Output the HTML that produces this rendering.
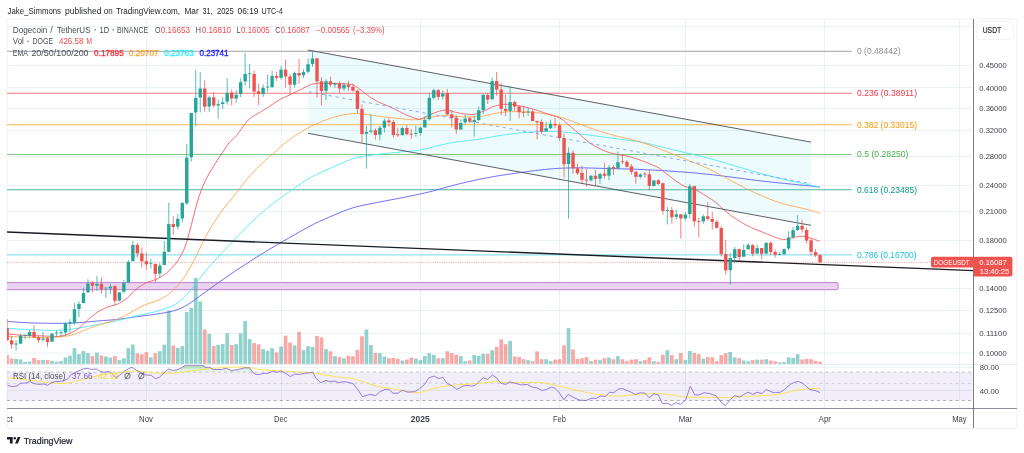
<!DOCTYPE html>
<html><head><meta charset="utf-8"><title>DOGEUSDT chart</title>
<style>html,body{margin:0;padding:0;background:#fff}svg{display:block;will-change:transform}text{font-family:"Liberation Sans",sans-serif}</style></head><body>
<svg width="1024" height="453" viewBox="0 0 1024 453">
<rect width="1024" height="453" fill="#fff"/>
<defs><clipPath id="main"><rect x="7" y="19" width="966.5" height="389.5"/></clipPath><clipPath id="rsi"><rect x="7" y="365" width="966.5" height="43"/></clipPath><clipPath id="tclip"><rect x="7.3" y="409" width="1010" height="19"/></clipPath></defs>
<rect x="7" y="19" width="1010" height="409.5" fill="none" stroke="#eceef2" stroke-width="0.8"/>
<g stroke="#eaf2f6" stroke-width="1" fill="none" shape-rendering="crispEdges">
<path d="M146.5 19V408"/>
<path d="M281.5 19V408"/>
<path d="M420.5 19V408"/>
<path d="M559.5 19V408"/>
<path d="M685.5 19V408"/>
<path d="M824.5 19V408"/>
<path d="M959.5 19V408"/>
</g>
<g stroke="#eaf2f6" stroke-width="1" fill="none">
<path d="M7 26.5H973"/>
<path d="M7 65.5H973"/>
<path d="M7 87.5H973"/>
<path d="M7 108.5H973"/>
<path d="M7 130.5H973"/>
<path d="M7 156.5H973"/>
<path d="M7 185.5H973"/>
<path d="M7 211.5H973"/>
<path d="M7 240.5H973"/>
<path d="M7 288.5H973"/>
<path d="M7 310.5H973"/>
<path d="M7 333.5H973"/>
<path d="M7 353.1H973"/>
<path d="M7 367.4H973"/>
<path d="M7 390.4H973"/>
</g>
<g clip-path="url(#main)">
<rect x="7" y="372" width="965.6" height="28.5" fill="#7e57c2" fill-opacity="0.105"/>
<path d="M7 372H973.5" stroke="#b4b6be" stroke-width="0.8" stroke-dasharray="3 3.2" fill="none"/>
<path d="M7 400.5H973.5" stroke="#989ba4" stroke-width="0.8" stroke-dasharray="3 3.2" fill="none"/>
<path d="M7 383.4H973.5" stroke="#c2c4cb" stroke-width="0.7" stroke-dasharray="3 3.2" fill="none"/>
<path d="M308 50.1L811 142.15L811 225.35L308 133.3Z" fill="#00bcd4" fill-opacity="0.066"/>
<path d="M7 51.41H851.8" stroke="#b2b5be" stroke-width="1.3" fill="none"/>
<path d="M7 93.28H851.8" stroke="#f7787f" stroke-width="1.1" fill="none"/>
<path d="M7 124.68H851.8" stroke="#ffb74d" stroke-width="1.1" fill="none"/>
<path d="M7 154.47H851.8" stroke="#81c784" stroke-width="1.1" fill="none"/>
<path d="M7 189.77H851.8" stroke="#4db6a4" stroke-width="1.2" fill="none"/>
<path d="M7 254.92H851.8" stroke="#72d9e7" stroke-width="1.0" fill="none"/>
<rect x="6" y="282.6" width="832" height="7.1" rx="1" fill="#ead3f0" stroke="#c27fd0" stroke-width="1"/>
<path d="M7 262.4H931" stroke="#ef8a88" stroke-width="0.8" stroke-dasharray="1 1.3" fill="none"/>
<g fill-opacity="0.5">
<rect x="5.25" y="355.1" width="3.7" height="8.8" fill="#ef5350"/>
<rect x="9.74" y="358.6" width="3.7" height="5.3" fill="#ef5350"/>
<rect x="14.23" y="358.9" width="3.7" height="5" fill="#26a69a"/>
<rect x="18.72" y="359.5" width="3.7" height="4.4" fill="#26a69a"/>
<rect x="23.22" y="362" width="3.7" height="1.9" fill="#26a69a"/>
<rect x="27.71" y="361.4" width="3.7" height="2.5" fill="#26a69a"/>
<rect x="32.2" y="358" width="3.7" height="5.9" fill="#ef5350"/>
<rect x="36.69" y="360.1" width="3.7" height="3.8" fill="#ef5350"/>
<rect x="41.18" y="359.9" width="3.7" height="4" fill="#26a69a"/>
<rect x="45.67" y="360.1" width="3.7" height="3.8" fill="#ef5350"/>
<rect x="50.17" y="360.8" width="3.7" height="3.1" fill="#26a69a"/>
<rect x="54.66" y="361.6" width="3.7" height="2.3" fill="#26a69a"/>
<rect x="59.15" y="361.1" width="3.7" height="2.8" fill="#26a69a"/>
<rect x="63.64" y="357.4" width="3.7" height="6.5" fill="#26a69a"/>
<rect x="68.13" y="355.7" width="3.7" height="8.2" fill="#26a69a"/>
<rect x="72.62" y="348.2" width="3.7" height="15.7" fill="#26a69a"/>
<rect x="77.11" y="354.1" width="3.7" height="9.8" fill="#26a69a"/>
<rect x="81.61" y="351.1" width="3.7" height="12.8" fill="#26a69a"/>
<rect x="86.1" y="353.2" width="3.7" height="10.7" fill="#26a69a"/>
<rect x="90.59" y="356.1" width="3.7" height="7.8" fill="#ef5350"/>
<rect x="95.08" y="352.6" width="3.7" height="11.3" fill="#26a69a"/>
<rect x="99.57" y="355.4" width="3.7" height="8.5" fill="#ef5350"/>
<rect x="104.06" y="356.4" width="3.7" height="7.5" fill="#26a69a"/>
<rect x="108.55" y="357.6" width="3.7" height="6.3" fill="#26a69a"/>
<rect x="113.05" y="356.1" width="3.7" height="7.8" fill="#ef5350"/>
<rect x="117.54" y="360.1" width="3.7" height="3.8" fill="#26a69a"/>
<rect x="122.03" y="358.3" width="3.7" height="5.6" fill="#26a69a"/>
<rect x="126.52" y="348.2" width="3.7" height="15.7" fill="#26a69a"/>
<rect x="131.01" y="344.5" width="3.7" height="19.4" fill="#26a69a"/>
<rect x="135.5" y="353.3" width="3.7" height="10.6" fill="#ef5350"/>
<rect x="140" y="354.3" width="3.7" height="9.6" fill="#ef5350"/>
<rect x="144.49" y="352.2" width="3.7" height="11.7" fill="#ef5350"/>
<rect x="148.98" y="357.3" width="3.7" height="6.6" fill="#26a69a"/>
<rect x="153.47" y="353.3" width="3.7" height="10.6" fill="#ef5350"/>
<rect x="157.96" y="351.2" width="3.7" height="12.7" fill="#26a69a"/>
<rect x="162.45" y="344.7" width="3.7" height="19.2" fill="#26a69a"/>
<rect x="166.94" y="310.6" width="3.7" height="53.3" fill="#26a69a"/>
<rect x="171.44" y="345.5" width="3.7" height="18.4" fill="#ef5350"/>
<rect x="175.93" y="347.8" width="3.7" height="16.1" fill="#26a69a"/>
<rect x="180.42" y="346.1" width="3.7" height="17.8" fill="#26a69a"/>
<rect x="184.91" y="312" width="3.7" height="51.9" fill="#26a69a"/>
<rect x="189.4" y="307.9" width="3.7" height="56" fill="#26a69a"/>
<rect x="193.89" y="278" width="3.7" height="85.9" fill="#26a69a"/>
<rect x="198.38" y="301.4" width="3.7" height="62.5" fill="#26a69a"/>
<rect x="202.88" y="329.5" width="3.7" height="34.4" fill="#ef5350"/>
<rect x="207.37" y="333.9" width="3.7" height="30" fill="#26a69a"/>
<rect x="211.86" y="346.1" width="3.7" height="17.8" fill="#ef5350"/>
<rect x="216.35" y="345.1" width="3.7" height="18.8" fill="#26a69a"/>
<rect x="220.84" y="344.1" width="3.7" height="19.8" fill="#26a69a"/>
<rect x="225.33" y="333.3" width="3.7" height="30.6" fill="#26a69a"/>
<rect x="229.83" y="345.1" width="3.7" height="18.8" fill="#ef5350"/>
<rect x="234.32" y="344.1" width="3.7" height="19.8" fill="#26a69a"/>
<rect x="238.81" y="333.4" width="3.7" height="30.5" fill="#26a69a"/>
<rect x="243.3" y="321.1" width="3.7" height="42.8" fill="#26a69a"/>
<rect x="247.79" y="339.1" width="3.7" height="24.8" fill="#26a69a"/>
<rect x="252.28" y="343.1" width="3.7" height="20.8" fill="#ef5350"/>
<rect x="256.77" y="344.3" width="3.7" height="19.6" fill="#ef5350"/>
<rect x="261.27" y="349.1" width="3.7" height="14.8" fill="#26a69a"/>
<rect x="265.76" y="350.8" width="3.7" height="13.1" fill="#26a69a"/>
<rect x="270.25" y="348.2" width="3.7" height="15.7" fill="#26a69a"/>
<rect x="274.74" y="352.3" width="3.7" height="11.6" fill="#ef5350"/>
<rect x="279.23" y="346.6" width="3.7" height="17.3" fill="#26a69a"/>
<rect x="283.72" y="335.7" width="3.7" height="28.2" fill="#ef5350"/>
<rect x="288.21" y="342.5" width="3.7" height="21.4" fill="#ef5350"/>
<rect x="292.71" y="345.4" width="3.7" height="18.5" fill="#26a69a"/>
<rect x="297.2" y="331.8" width="3.7" height="32.1" fill="#ef5350"/>
<rect x="301.69" y="350.1" width="3.7" height="13.8" fill="#26a69a"/>
<rect x="306.18" y="346.2" width="3.7" height="17.7" fill="#26a69a"/>
<rect x="310.67" y="346.9" width="3.7" height="17" fill="#26a69a"/>
<rect x="315.16" y="335.9" width="3.7" height="28" fill="#ef5350"/>
<rect x="319.66" y="337.4" width="3.7" height="26.5" fill="#ef5350"/>
<rect x="324.15" y="349.1" width="3.7" height="14.8" fill="#26a69a"/>
<rect x="328.64" y="351.3" width="3.7" height="12.6" fill="#ef5350"/>
<rect x="333.13" y="356.1" width="3.7" height="7.8" fill="#26a69a"/>
<rect x="337.62" y="357.1" width="3.7" height="6.8" fill="#ef5350"/>
<rect x="342.11" y="358.3" width="3.7" height="5.6" fill="#26a69a"/>
<rect x="346.6" y="355.7" width="3.7" height="8.2" fill="#ef5350"/>
<rect x="351.1" y="356.3" width="3.7" height="7.6" fill="#ef5350"/>
<rect x="355.59" y="349.8" width="3.7" height="14.1" fill="#ef5350"/>
<rect x="360.08" y="336.2" width="3.7" height="27.7" fill="#ef5350"/>
<rect x="364.57" y="329.4" width="3.7" height="34.5" fill="#26a69a"/>
<rect x="369.06" y="345" width="3.7" height="18.9" fill="#26a69a"/>
<rect x="373.55" y="352.9" width="3.7" height="11" fill="#ef5350"/>
<rect x="378.04" y="353.2" width="3.7" height="10.7" fill="#26a69a"/>
<rect x="382.54" y="356.7" width="3.7" height="7.2" fill="#26a69a"/>
<rect x="387.03" y="358.2" width="3.7" height="5.7" fill="#ef5350"/>
<rect x="391.52" y="357.9" width="3.7" height="6" fill="#ef5350"/>
<rect x="396.01" y="358.8" width="3.7" height="5.1" fill="#ef5350"/>
<rect x="400.5" y="360.5" width="3.7" height="3.4" fill="#26a69a"/>
<rect x="404.99" y="359.6" width="3.7" height="4.3" fill="#ef5350"/>
<rect x="409.49" y="357.6" width="3.7" height="6.3" fill="#ef5350"/>
<rect x="413.98" y="358.6" width="3.7" height="5.3" fill="#26a69a"/>
<rect x="418.47" y="360.2" width="3.7" height="3.7" fill="#26a69a"/>
<rect x="422.96" y="356.1" width="3.7" height="7.8" fill="#26a69a"/>
<rect x="427.45" y="353.2" width="3.7" height="10.7" fill="#26a69a"/>
<rect x="431.94" y="354.8" width="3.7" height="9.1" fill="#26a69a"/>
<rect x="436.43" y="358.3" width="3.7" height="5.6" fill="#ef5350"/>
<rect x="440.93" y="358.2" width="3.7" height="5.7" fill="#26a69a"/>
<rect x="445.42" y="351.3" width="3.7" height="12.6" fill="#ef5350"/>
<rect x="449.91" y="353.2" width="3.7" height="10.7" fill="#ef5350"/>
<rect x="454.4" y="354.8" width="3.7" height="9.1" fill="#ef5350"/>
<rect x="458.89" y="356.1" width="3.7" height="7.8" fill="#26a69a"/>
<rect x="463.38" y="361.1" width="3.7" height="2.8" fill="#26a69a"/>
<rect x="467.87" y="360.5" width="3.7" height="3.4" fill="#ef5350"/>
<rect x="472.37" y="355" width="3.7" height="8.9" fill="#26a69a"/>
<rect x="476.86" y="355.8" width="3.7" height="8.1" fill="#26a69a"/>
<rect x="481.35" y="353.8" width="3.7" height="10.1" fill="#26a69a"/>
<rect x="485.84" y="353.8" width="3.7" height="10.1" fill="#ef5350"/>
<rect x="490.33" y="350.1" width="3.7" height="13.8" fill="#26a69a"/>
<rect x="494.82" y="346.9" width="3.7" height="17" fill="#ef5350"/>
<rect x="499.32" y="339.4" width="3.7" height="24.5" fill="#ef5350"/>
<rect x="503.81" y="344.1" width="3.7" height="19.8" fill="#ef5350"/>
<rect x="508.3" y="340.9" width="3.7" height="23" fill="#26a69a"/>
<rect x="512.79" y="356.4" width="3.7" height="7.5" fill="#ef5350"/>
<rect x="517.28" y="356.9" width="3.7" height="7" fill="#ef5350"/>
<rect x="521.77" y="359.2" width="3.7" height="4.7" fill="#ef5350"/>
<rect x="526.26" y="360.2" width="3.7" height="3.7" fill="#26a69a"/>
<rect x="530.76" y="361.1" width="3.7" height="2.8" fill="#ef5350"/>
<rect x="535.25" y="351.4" width="3.7" height="12.5" fill="#ef5350"/>
<rect x="539.74" y="359.2" width="3.7" height="4.7" fill="#ef5350"/>
<rect x="544.23" y="359.2" width="3.7" height="4.7" fill="#26a69a"/>
<rect x="548.72" y="361.1" width="3.7" height="2.8" fill="#26a69a"/>
<rect x="553.21" y="359.6" width="3.7" height="4.3" fill="#ef5350"/>
<rect x="557.7" y="359.2" width="3.7" height="4.7" fill="#ef5350"/>
<rect x="562.2" y="345.4" width="3.7" height="18.5" fill="#ef5350"/>
<rect x="566.69" y="328.1" width="3.7" height="35.8" fill="#26a69a"/>
<rect x="571.18" y="349.4" width="3.7" height="14.5" fill="#ef5350"/>
<rect x="575.67" y="358.9" width="3.7" height="5" fill="#ef5350"/>
<rect x="580.16" y="358.2" width="3.7" height="5.7" fill="#ef5350"/>
<rect x="584.65" y="357.1" width="3.7" height="6.8" fill="#ef5350"/>
<rect x="589.14" y="361.1" width="3.7" height="2.8" fill="#26a69a"/>
<rect x="593.64" y="359.6" width="3.7" height="4.3" fill="#ef5350"/>
<rect x="598.13" y="360.1" width="3.7" height="3.8" fill="#26a69a"/>
<rect x="602.62" y="358.2" width="3.7" height="5.7" fill="#ef5350"/>
<rect x="607.11" y="357.6" width="3.7" height="6.3" fill="#26a69a"/>
<rect x="611.6" y="359.2" width="3.7" height="4.7" fill="#ef5350"/>
<rect x="616.09" y="356.1" width="3.7" height="7.8" fill="#26a69a"/>
<rect x="620.59" y="359.2" width="3.7" height="4.7" fill="#ef5350"/>
<rect x="625.08" y="361.1" width="3.7" height="2.8" fill="#ef5350"/>
<rect x="629.57" y="359.6" width="3.7" height="4.3" fill="#ef5350"/>
<rect x="634.06" y="359.2" width="3.7" height="4.7" fill="#ef5350"/>
<rect x="638.55" y="361.1" width="3.7" height="2.8" fill="#26a69a"/>
<rect x="643.04" y="360.2" width="3.7" height="3.7" fill="#ef5350"/>
<rect x="647.53" y="357.3" width="3.7" height="6.6" fill="#ef5350"/>
<rect x="652.03" y="361.1" width="3.7" height="2.8" fill="#26a69a"/>
<rect x="656.52" y="362" width="3.7" height="1.9" fill="#ef5350"/>
<rect x="661.01" y="354.8" width="3.7" height="9.1" fill="#ef5350"/>
<rect x="665.5" y="350.1" width="3.7" height="13.8" fill="#26a69a"/>
<rect x="669.99" y="355.2" width="3.7" height="8.7" fill="#ef5350"/>
<rect x="674.48" y="359.2" width="3.7" height="4.7" fill="#26a69a"/>
<rect x="678.98" y="352.9" width="3.7" height="11" fill="#ef5350"/>
<rect x="683.47" y="360.1" width="3.7" height="3.8" fill="#26a69a"/>
<rect x="687.96" y="351" width="3.7" height="12.9" fill="#26a69a"/>
<rect x="692.45" y="352.9" width="3.7" height="11" fill="#ef5350"/>
<rect x="696.94" y="354.2" width="3.7" height="9.7" fill="#ef5350"/>
<rect x="701.43" y="358.6" width="3.7" height="5.3" fill="#26a69a"/>
<rect x="705.92" y="357.1" width="3.7" height="6.8" fill="#ef5350"/>
<rect x="710.42" y="357.3" width="3.7" height="6.6" fill="#ef5350"/>
<rect x="714.91" y="361.1" width="3.7" height="2.8" fill="#ef5350"/>
<rect x="719.4" y="355.2" width="3.7" height="8.7" fill="#ef5350"/>
<rect x="723.89" y="353.3" width="3.7" height="10.6" fill="#ef5350"/>
<rect x="728.38" y="352" width="3.7" height="11.9" fill="#26a69a"/>
<rect x="732.87" y="357.3" width="3.7" height="6.6" fill="#26a69a"/>
<rect x="737.36" y="358.2" width="3.7" height="5.7" fill="#ef5350"/>
<rect x="741.86" y="360.5" width="3.7" height="3.4" fill="#26a69a"/>
<rect x="746.35" y="361.3" width="3.7" height="2.6" fill="#26a69a"/>
<rect x="750.84" y="360.1" width="3.7" height="3.8" fill="#ef5350"/>
<rect x="755.33" y="359.6" width="3.7" height="4.3" fill="#26a69a"/>
<rect x="759.82" y="359.6" width="3.7" height="4.3" fill="#ef5350"/>
<rect x="764.31" y="359.2" width="3.7" height="4.7" fill="#26a69a"/>
<rect x="768.81" y="360.5" width="3.7" height="3.4" fill="#ef5350"/>
<rect x="773.3" y="361.3" width="3.7" height="2.6" fill="#ef5350"/>
<rect x="777.79" y="362.3" width="3.7" height="1.6" fill="#26a69a"/>
<rect x="782.28" y="362" width="3.7" height="1.9" fill="#26a69a"/>
<rect x="786.77" y="357.3" width="3.7" height="6.6" fill="#26a69a"/>
<rect x="791.26" y="357.9" width="3.7" height="6" fill="#26a69a"/>
<rect x="795.75" y="354.2" width="3.7" height="9.7" fill="#26a69a"/>
<rect x="800.25" y="359.5" width="3.7" height="4.4" fill="#ef5350"/>
<rect x="804.74" y="358.8" width="3.7" height="5.1" fill="#ef5350"/>
<rect x="809.23" y="359.2" width="3.7" height="4.7" fill="#ef5350"/>
<rect x="813.72" y="360.8" width="3.7" height="3.1" fill="#ef5350"/>
<rect x="818.21" y="361.7" width="3.7" height="2.2" fill="#ef5350"/>
</g>
<path d="M7.4 321.5L10.4 321.69L13.4 321.88L16.4 322.08L19.4 322.27L22.4 322.45L25.4 322.61L28.4 322.75L31.4 322.87L34.4 322.97L37.4 323.06L40.4 323.13L43.4 323.19L46.4 323.25L49.4 323.31L52.4 323.35L55.4 323.37L58.4 323.37L61.4 323.34L64.4 323.3L67.4 323.23L70.4 323.12L73.4 322.99L76.4 322.82L79.4 322.62L82.4 322.4L85.4 322.14L88.4 321.85L91.4 321.56L94.4 321.28L97.4 321.02L100.4 320.77L103.4 320.54L106.4 320.32L109.4 320.11L112.4 319.85L115.4 319.56L118.4 319.24L121.4 318.87L124.4 318.47L127.4 318.03L130.4 317.58L133.4 317.15L136.4 316.74L139.4 316.33L142.4 315.95L145.4 315.58L148.4 315.22L151.4 314.83L154.4 314.41L157.4 313.97L160.4 313.5L163.4 313.01L166.4 312.49L169.4 311.87L172.4 311.15L175.4 310.34L178.4 309.32L181.4 308.05L184.4 306.5L187.4 304.72L190.4 302.82L193.4 300.79L196.4 298.62L199.4 296.4L202.4 294.21L205.4 292.04L208.4 289.89L211.4 287.71L214.4 285.54L217.4 283.38L220.4 281.24L223.4 279.14L226.4 277.07L229.4 275.02L232.4 272.99L235.4 270.97L238.4 268.98L241.4 267L244.4 265.05L247.4 263.1L250.4 261.16L253.4 259.23L256.4 257.32L259.4 255.44L262.4 253.58L265.4 251.75L268.4 249.94L271.4 248.15L274.4 246.38L277.4 244.64L280.4 242.9L283.4 241.17L286.4 239.44L289.4 237.72L292.4 236L295.4 234.29L298.4 232.57L301.4 230.85L304.4 229.14L307.4 227.49L310.4 225.89L313.4 224.36L316.4 222.88L319.4 221.46L322.4 220.1L325.4 218.81L328.4 217.51L331.4 216.23L334.4 214.96L337.4 213.7L340.4 212.44L343.4 211.19L346.4 210.03L349.4 208.96L352.4 207.99L355.4 207.11L358.4 206.32L361.4 205.62L364.4 205.02L367.4 204.42L370.4 203.82L373.4 203.22L376.4 202.63L379.4 202.04L382.4 201.46L385.4 200.88L388.4 200.32L391.4 199.76L394.4 199.2L397.4 198.64L400.4 198.06L403.4 197.47L406.4 196.86L409.4 196.25L412.4 195.63L415.4 195.01L418.4 194.38L421.4 193.76L424.4 193.09L427.4 192.37L430.4 191.62L433.4 190.83L436.4 189.99L439.4 189.14L442.4 188.28L445.4 187.44L448.4 186.63L451.4 185.84L454.4 185.07L457.4 184.31L460.4 183.56L463.4 182.83L466.4 182.12L469.4 181.44L472.4 180.77L475.4 180.13L478.4 179.51L481.4 178.92L484.4 178.32L487.4 177.75L490.4 177.19L493.4 176.65L496.4 176.13L499.4 175.64L502.4 175.17L505.4 174.71L508.4 174.27L511.4 173.82L514.4 173.39L517.4 172.96L520.4 172.54L523.4 172.13L526.4 171.73L529.4 171.34L532.4 170.95L535.4 170.57L538.4 170.2L541.4 169.85L544.4 169.52L547.4 169.21L550.4 168.93L553.4 168.69L556.4 168.49L559.4 168.32L562.4 168.18L565.4 168.06L568.4 167.98L571.4 167.91L574.4 167.86L577.4 167.84L580.4 167.84L583.4 167.86L586.4 167.91L589.4 167.98L592.4 168.08L595.4 168.18L598.4 168.27L601.4 168.36L604.4 168.44L607.4 168.52L610.4 168.59L613.4 168.66L616.4 168.72L619.4 168.78L622.4 168.85L625.4 168.92L628.4 169L631.4 169.09L634.4 169.2L637.4 169.32L640.4 169.45L643.4 169.59L646.4 169.74L649.4 169.89L652.4 170.05L655.4 170.21L658.4 170.37L661.4 170.55L664.4 170.72L667.4 170.91L670.4 171.1L673.4 171.3L676.4 171.51L679.4 171.71L682.4 171.93L685.4 172.16L688.4 172.4L691.4 172.66L694.4 172.93L697.4 173.21L700.4 173.51L703.4 173.82L706.4 174.13L709.4 174.45L712.4 174.78L715.4 175.12L718.4 175.48L721.4 175.85L724.4 176.23L727.4 176.62L730.4 177L733.4 177.39L736.4 177.78L739.4 178.17L742.4 178.55L745.4 178.94L748.4 179.33L751.4 179.72L754.4 180.11L757.4 180.49L760.4 180.85L763.4 181.2L766.4 181.54L769.4 181.87L772.4 182.19L775.4 182.49L778.4 182.8L781.4 183.1L784.4 183.4L787.4 183.7L790.4 184L793.4 184.29L796.4 184.59L799.4 184.88L802.4 185.17L805.4 185.47L808.4 185.79L811.4 186.12L814.4 186.47L817.4 186.83L819.9 187.2" stroke="#5b5bf5" stroke-width="0.9" fill="none" stroke-linejoin="round" />
<path d="M7.4 328.4L10.4 328.58L13.4 328.76L16.4 328.93L19.4 329.11L22.4 329.28L25.4 329.44L28.4 329.59L31.4 329.73L34.4 329.86L37.4 329.97L40.4 330.08L43.4 330.18L46.4 330.28L49.4 330.39L52.4 330.43L55.4 330.4L58.4 330.32L61.4 330.16L64.4 329.94L67.4 329.66L70.4 329.29L73.4 328.89L76.4 328.45L79.4 327.98L82.4 327.47L85.4 326.93L88.4 326.35L91.4 325.76L94.4 325.17L97.4 324.59L100.4 324.02L103.4 323.46L106.4 322.89L109.4 322.33L112.4 321.72L115.4 321.08L118.4 320.41L121.4 319.7L124.4 318.96L127.4 318.18L130.4 317.41L133.4 316.66L136.4 315.95L139.4 315.26L142.4 314.6L145.4 313.97L148.4 313.35L151.4 312.66L154.4 311.91L157.4 311.09L160.4 310.2L163.4 309.25L166.4 308.23L169.4 307.04L172.4 305.7L175.4 304.21L178.4 302.35L181.4 300.01L184.4 297.17L187.4 293.89L190.4 290.35L193.4 286.61L196.4 282.65L199.4 278.7L202.4 274.88L205.4 271.22L208.4 267.72L211.4 264.31L214.4 260.96L217.4 257.68L220.4 254.46L223.4 251.31L226.4 248.18L229.4 245.03L232.4 241.86L235.4 238.66L238.4 235.46L241.4 232.32L244.4 229.24L247.4 226.24L250.4 223.32L253.4 220.48L256.4 217.73L259.4 215.03L262.4 212.34L265.4 209.73L268.4 207.2L271.4 204.76L274.4 202.4L277.4 200.13L280.4 197.95L283.4 195.85L286.4 193.75L289.4 191.65L292.4 189.54L295.4 187.44L298.4 185.34L301.4 183.3L304.4 181.34L307.4 179.47L310.4 177.69L313.4 176.01L316.4 174.47L319.4 173.05L322.4 171.71L325.4 170.39L328.4 169.07L331.4 167.75L334.4 166.4L337.4 165.03L340.4 163.69L343.4 162.37L346.4 161.1L349.4 159.91L352.4 158.89L355.4 158.04L358.4 157.32L361.4 156.69L364.4 156.15L367.4 155.7L370.4 155.32L373.4 154.92L376.4 154.54L379.4 154.17L382.4 153.81L385.4 153.46L388.4 153.14L391.4 152.83L394.4 152.55L397.4 152.28L400.4 152.01L403.4 151.75L406.4 151.49L409.4 151.25L412.4 150.97L415.4 150.62L418.4 150.19L421.4 149.69L424.4 149.1L427.4 148.44L430.4 147.68L433.4 146.88L436.4 146.09L439.4 145.33L442.4 144.62L445.4 143.95L448.4 143.33L451.4 142.79L454.4 142.33L457.4 141.93L460.4 141.55L463.4 141.19L466.4 140.83L469.4 140.48L472.4 140.1L475.4 139.69L478.4 139.24L481.4 138.74L484.4 138.22L487.4 137.69L490.4 137.16L493.4 136.61L496.4 136.08L499.4 135.58L502.4 135.12L505.4 134.7L508.4 134.3L511.4 133.93L514.4 133.59L517.4 133.27L520.4 132.97L523.4 132.68L526.4 132.41L529.4 132.18L532.4 131.97L535.4 131.79L538.4 131.65L541.4 131.55L544.4 131.49L547.4 131.45L550.4 131.46L553.4 131.52L556.4 131.63L559.4 131.78L562.4 131.97L565.4 132.22L568.4 132.51L571.4 132.83L574.4 133.16L577.4 133.52L580.4 133.91L583.4 134.3L586.4 134.7L589.4 135.1L592.4 135.51L595.4 135.93L598.4 136.34L601.4 136.74L604.4 137.13L607.4 137.52L610.4 137.9L613.4 138.29L616.4 138.69L619.4 139.09L622.4 139.49L625.4 139.88L628.4 140.25L631.4 140.62L634.4 141.03L637.4 141.49L640.4 142L643.4 142.57L646.4 143.21L649.4 143.91L652.4 144.66L655.4 145.41L658.4 146.16L661.4 146.91L664.4 147.66L667.4 148.42L670.4 149.16L673.4 149.89L676.4 150.59L679.4 151.28L682.4 151.96L685.4 152.64L688.4 153.31L691.4 154.01L694.4 154.72L697.4 155.45L700.4 156.19L703.4 156.94L706.4 157.68L709.4 158.44L712.4 159.23L715.4 160.04L718.4 160.88L721.4 161.75L724.4 162.64L727.4 163.55L730.4 164.46L733.4 165.36L736.4 166.26L739.4 167.16L742.4 168.06L745.4 168.95L748.4 169.85L751.4 170.75L754.4 171.65L757.4 172.52L760.4 173.37L763.4 174.18L766.4 174.97L769.4 175.75L772.4 176.51L775.4 177.25L778.4 178.01L781.4 178.76L784.4 179.49L787.4 180.2L790.4 180.89L793.4 181.54L796.4 182.17L799.4 182.77L802.4 183.36L805.4 183.97L808.4 184.6L811.4 185.24L814.4 185.88L817.4 186.53L819.9 187.2" stroke="#4de8f7" stroke-width="0.9" fill="none" stroke-linejoin="round" />
<path d="M7.4 336.2L10.4 336.42L13.4 336.65L16.4 336.84L19.4 337L22.4 337.12L25.4 337.22L28.4 337.28L31.4 337.34L34.4 337.41L37.4 337.47L40.4 337.53L43.4 337.58L46.4 337.57L49.4 337.5L52.4 337.38L55.4 337.19L58.4 336.97L61.4 336.74L64.4 336.41L67.4 335.95L70.4 335.35L73.4 334.56L76.4 333.52L79.4 332.33L82.4 331.05L85.4 329.77L88.4 328.54L91.4 327.42L94.4 326.41L97.4 325.51L100.4 324.6L103.4 323.71L106.4 322.81L109.4 321.92L112.4 320.98L115.4 319.92L118.4 318.73L121.4 317.42L124.4 315.92L127.4 314.28L130.4 312.58L133.4 310.87L136.4 309.16L139.4 307.53L142.4 306.04L145.4 304.74L148.4 303.58L151.4 302.55L154.4 301.64L157.4 300.54L160.4 299.21L163.4 297.65L166.4 295.82L169.4 293.52L172.4 290.95L175.4 288.12L178.4 284.82L181.4 281.07L184.4 277L187.4 272.4L190.4 267.19L193.4 261.59L196.4 255.63L199.4 249.45L202.4 243.27L205.4 237.36L208.4 231.81L211.4 226.62L214.4 221.74L217.4 217.25L220.4 213.04L223.4 208.99L226.4 205.11L229.4 201.37L232.4 197.67L235.4 193.92L238.4 190.12L241.4 186.3L244.4 182.53L247.4 178.84L250.4 175.35L253.4 172.07L256.4 168.96L259.4 166L262.4 163.2L265.4 160.44L268.4 157.73L271.4 155.06L274.4 152.4L277.4 149.74L280.4 147.06L283.4 144.49L286.4 142.03L289.4 139.69L292.4 137.46L295.4 135.43L298.4 133.5L301.4 131.66L304.4 129.92L307.4 128.31L310.4 126.77L313.4 125.29L316.4 123.87L319.4 122.54L322.4 121.29L325.4 120.1L328.4 118.99L331.4 117.98L334.4 117.08L337.4 116.27L340.4 115.53L343.4 114.91L346.4 114.41L349.4 113.98L352.4 113.62L355.4 113.5L358.4 113.56L361.4 113.78L364.4 114.15L367.4 114.65L370.4 115.12L373.4 115.56L376.4 115.96L379.4 116.34L382.4 116.68L385.4 117.01L388.4 117.34L391.4 117.66L394.4 117.96L397.4 118.27L400.4 118.59L403.4 118.92L406.4 119.26L409.4 119.61L412.4 119.85L415.4 119.77L418.4 119.53L421.4 119.12L424.4 118.53L427.4 117.91L430.4 117.42L433.4 116.94L436.4 116.45L439.4 116L442.4 115.72L445.4 115.62L448.4 115.68L451.4 115.91L454.4 116.22L457.4 116.48L460.4 116.69L463.4 116.86L466.4 116.93L469.4 116.95L472.4 116.93L475.4 116.86L478.4 116.62L481.4 116.26L484.4 115.76L487.4 115.13L490.4 114.42L493.4 113.76L496.4 113.17L499.4 112.65L502.4 112.25L505.4 111.96L508.4 111.75L511.4 111.63L514.4 111.61L517.4 111.65L520.4 111.71L523.4 111.8L526.4 111.92L529.4 112.1L532.4 112.31L535.4 112.56L538.4 112.87L541.4 113.25L544.4 113.69L547.4 114.18L550.4 114.74L553.4 115.39L556.4 116.11L559.4 116.9L562.4 117.74L565.4 118.7L568.4 119.72L571.4 120.81L574.4 121.96L577.4 123.14L580.4 124.3L583.4 125.43L586.4 126.54L589.4 127.6L592.4 128.66L595.4 129.7L598.4 130.73L601.4 131.72L604.4 132.66L607.4 133.57L610.4 134.43L613.4 135.23L616.4 136.01L619.4 136.76L622.4 137.49L625.4 138.2L628.4 138.91L631.4 139.63L634.4 140.35L637.4 141.15L640.4 142.01L643.4 142.93L646.4 143.92L649.4 144.99L652.4 146.09L655.4 147.23L658.4 148.39L661.4 149.58L664.4 150.78L667.4 151.96L670.4 153.15L673.4 154.34L676.4 155.54L679.4 156.74L682.4 157.96L685.4 159.17L688.4 160.38L691.4 161.58L694.4 162.77L697.4 163.98L700.4 165.23L703.4 166.52L706.4 167.85L709.4 169.24L712.4 170.7L715.4 172.2L718.4 173.75L721.4 175.34L724.4 176.97L727.4 178.59L730.4 180.21L733.4 181.83L736.4 183.43L739.4 185.03L742.4 186.61L745.4 188.18L748.4 189.69L751.4 191.14L754.4 192.55L757.4 193.9L760.4 195.19L763.4 196.46L766.4 197.72L769.4 198.96L772.4 200.12L775.4 201.22L778.4 202.26L781.4 203.23L784.4 204.09L787.4 204.88L790.4 205.61L793.4 206.27L796.4 206.89L799.4 207.54L802.4 208.24L805.4 208.98L808.4 209.79L811.4 210.66L814.4 211.55L817.4 212.45L819.9 213.4" stroke="#ffa64d" stroke-width="0.9" fill="none" stroke-linejoin="round" />
<path d="M7.4 333.8L9.4 334.03L11.4 334.26L13.4 334.49L15.4 334.73L17.4 334.96L19.4 335.13L21.4 335.26L23.4 335.32L25.4 335.38L27.4 335.44L29.4 335.5L31.4 335.56L33.4 335.63L35.4 335.69L37.4 335.75L39.4 335.82L41.4 335.89L43.4 335.98L45.4 336.06L47.4 336.14L49.4 336.22L51.4 336.3L53.4 336.39L55.4 336.47L57.4 336.47L59.4 336.29L61.4 335.91L63.4 335.42L65.4 334.93L67.4 334.36L69.4 333.61L71.4 332.68L73.4 331.67L75.4 330.66L77.4 329.44L79.4 327.9L81.4 326.03L83.4 324.05L85.4 322.07L87.4 320.19L89.4 318.44L91.4 316.81L93.4 315.22L95.4 313.63L97.4 312.2L99.4 310.97L101.4 309.93L103.4 308.92L105.4 307.91L107.4 307.07L109.4 306.41L111.4 305.92L113.4 305.43L115.4 304.92L117.4 304.16L119.4 303.15L121.4 301.93L123.4 300.7L125.4 299.42L127.4 297.86L129.4 296.03L131.4 293.96L133.4 291.9L135.4 289.94L137.4 288.25L139.4 286.85L141.4 285.62L143.4 284.4L145.4 283.27L147.4 282.34L149.4 281.61L151.4 281L153.4 280.39L155.4 279.67L157.4 278.75L159.4 277.65L161.4 276.45L163.4 275.25L165.4 273.87L167.4 272.22L169.4 270.3L171.4 268.26L173.4 266.18L175.4 264.02L177.4 261.38L179.4 258.28L181.4 254.74L183.4 250.81L185.4 245.75L187.4 239.56L189.4 232.31L191.4 224.67L193.4 216.79L195.4 209.18L197.4 201.91L199.4 195.52L201.4 189.82L203.4 185.01L205.4 180.64L207.4 176.68L209.4 173.08L211.4 169.69L213.4 166.48L215.4 163.33L217.4 160.18L219.4 157.07L221.4 154.02L223.4 151.02L225.4 148.03L227.4 145.04L229.4 142.48L231.4 140.41L233.4 138.85L235.4 136.99L237.4 134.62L239.4 131.75L241.4 128.75L243.4 125.93L245.4 123.37L247.4 121.09L249.4 119.07L251.4 117.39L253.4 116.06L255.4 114.91L257.4 113.74L259.4 112.58L261.4 111.41L263.4 110.23L265.4 109.01L267.4 107.72L269.4 106.38L271.4 105.04L273.4 103.7L275.4 102.37L277.4 101.03L279.4 99.77L281.4 98.66L283.4 97.72L285.4 96.88L287.4 96.01L289.4 95.09L291.4 94.13L293.4 93.14L295.4 92.15L297.4 91.15L299.4 90.15L301.4 89.15L303.4 88.15L305.4 87.14L307.4 86.12L309.4 85.17L311.4 84.44L313.4 83.93L315.4 83.57L317.4 83.31L319.4 83.2L321.4 83.23L323.4 83.31L325.4 83.38L327.4 83.45L329.4 83.49L331.4 83.5L333.4 83.5L335.4 83.5L337.4 83.5L339.4 83.5L341.4 83.5L343.4 83.58L345.4 83.74L347.4 83.99L349.4 84.23L351.4 84.52L353.4 85.16L355.4 86.17L357.4 87.5L359.4 88.87L361.4 90.35L363.4 91.93L365.4 93.57L367.4 95.14L369.4 96.57L371.4 97.87L373.4 99.12L375.4 100.37L377.4 101.51L379.4 102.48L381.4 103.28L383.4 104.04L385.4 104.79L387.4 105.62L389.4 106.53L391.4 107.52L393.4 108.53L395.4 109.54L397.4 110.54L399.4 111.54L401.4 112.53L403.4 113.52L405.4 114.51L407.4 115.43L409.4 116.26L411.4 117.02L413.4 117.77L415.4 118.52L417.4 119.08L419.4 119.17L421.4 118.69L423.4 117.82L425.4 116.83L427.4 115.84L429.4 114.91L431.4 114.06L433.4 113.29L435.4 112.54L437.4 111.8L439.4 111.16L441.4 110.67L443.4 110.32L445.4 110.02L447.4 110.06L449.4 110.41L451.4 111.06L453.4 111.68L455.4 112.21L457.4 112.67L459.4 113.07L461.4 113.47L463.4 113.83L465.4 114.09L467.4 114.25L469.4 114.35L471.4 114.45L473.4 114.41L475.4 114.08L477.4 113.48L479.4 112.73L481.4 111.98L483.4 111.19L485.4 110.31L487.4 109.35L489.4 108.35L491.4 107.35L493.4 106.49L495.4 105.84L497.4 105.4L499.4 105.04L501.4 104.67L503.4 104.42L505.4 104.32L507.4 104.37L509.4 104.47L511.4 104.57L513.4 104.75L515.4 105.03L517.4 105.41L519.4 105.81L521.4 106.22L523.4 106.65L525.4 107.11L527.4 107.61L529.4 108.11L531.4 108.62L533.4 109.18L535.4 109.79L537.4 110.47L539.4 111.16L541.4 111.84L543.4 112.52L545.4 113.18L547.4 113.83L549.4 114.47L551.4 115.12L553.4 115.78L555.4 116.44L557.4 117.12L559.4 117.88L561.4 118.97L563.4 120.39L565.4 122.07L567.4 123.76L569.4 125.46L571.4 127.19L573.4 128.93L575.4 130.67L577.4 132.41L579.4 134.16L581.4 135.91L583.4 137.67L585.4 139.43L587.4 141.08L589.4 142.56L591.4 143.87L593.4 145.12L595.4 146.37L597.4 147.53L599.4 148.56L601.4 149.46L603.4 150.31L605.4 151.17L607.4 151.93L609.4 152.56L611.4 153.07L613.4 153.56L615.4 154.04L617.4 154.48L619.4 154.85L621.4 155.16L623.4 155.46L625.4 155.77L627.4 156.16L629.4 156.66L631.4 157.25L633.4 157.86L635.4 158.46L637.4 159.11L639.4 159.81L641.4 160.56L643.4 161.31L645.4 162.05L647.4 162.84L649.4 163.67L651.4 164.54L653.4 165.41L655.4 166.28L657.4 167.15L659.4 168.24L661.4 169.59L663.4 171.22L665.4 172.89L667.4 174.5L669.4 176.04L671.4 177.54L673.4 179.03L675.4 180.52L677.4 181.95L679.4 183.32L681.4 184.65L683.4 185.83L685.4 186.68L687.4 187.21L689.4 187.56L691.4 188.07L693.4 188.8L695.4 189.75L697.4 190.75L699.4 191.84L701.4 193.02L703.4 194.27L705.4 195.52L707.4 196.78L709.4 198.05L711.4 199.36L713.4 200.68L715.4 202.1L717.4 203.74L719.4 205.6L721.4 207.6L723.4 209.48L725.4 211.2L727.4 212.74L729.4 214.24L731.4 215.73L733.4 217.17L735.4 218.52L737.4 219.79L739.4 221.04L741.4 222.3L743.4 223.48L745.4 224.59L747.4 225.62L749.4 226.63L751.4 227.64L753.4 228.57L755.4 229.42L757.4 230.17L759.4 230.91L761.4 231.67L763.4 232.47L765.4 233.3L767.4 234.16L769.4 235.01L771.4 235.87L773.4 236.72L775.4 237.47L777.4 238.12L779.4 238.69L781.4 239.26L783.4 239.56L785.4 239.47L787.4 239L789.4 238.42L791.4 237.9L793.4 237.46L795.4 237.09L797.4 236.73L799.4 236.45L801.4 236.34L803.4 236.38L805.4 236.67L807.4 237.11L809.4 237.73L811.4 238.35L813.4 239.03L815.4 239.76L817.4 240.54L819.4 241.11L819.9 241.5" stroke="#f5595f" stroke-width="0.9" fill="none" stroke-linejoin="round" />
<path d="M308 50.1L811 142.15" stroke="#4a4d58" stroke-width="0.9" fill="none"/>
<path d="M308 133.3L811 225.35" stroke="#4a4d58" stroke-width="0.9" fill="none"/>
<path d="M308.7 91.83L811 183.75" stroke="#7a98f7" stroke-width="0.85" stroke-dasharray="3.2 3.6" fill="none"/>
<path d="M7 232L973.5 270.6" stroke="#1a1c24" stroke-width="1.4" fill="none"/>
<path d="M7.1 319V341" stroke="#ef5350" stroke-width="0.75" fill="none"/>
<rect x="5.4" y="327.9" width="3.4" height="12.2" fill="#ef5350"/>
<path d="M11.59 335.7V348.9" stroke="#ef5350" stroke-width="0.75" fill="none"/>
<rect x="9.89" y="340.3" width="3.4" height="4.2" fill="#ef5350"/>
<path d="M16.08 340.3V350.8" stroke="#26a69a" stroke-width="0.75" fill="none"/>
<rect x="14.38" y="343.6" width="3.4" height="0.9" fill="#26a69a"/>
<path d="M20.57 333.8V344.1" stroke="#26a69a" stroke-width="0.75" fill="none"/>
<rect x="18.87" y="335.7" width="3.4" height="7.9" fill="#26a69a"/>
<path d="M25.07 334.4V339.1" stroke="#26a69a" stroke-width="0.75" fill="none"/>
<rect x="23.37" y="335" width="3.4" height="0.8" fill="#26a69a"/>
<path d="M29.56 330V337.6" stroke="#26a69a" stroke-width="0.75" fill="none"/>
<rect x="27.86" y="331.9" width="3.4" height="4.1" fill="#26a69a"/>
<path d="M34.05 325.3V337.6" stroke="#ef5350" stroke-width="0.75" fill="none"/>
<rect x="32.35" y="331.9" width="3.4" height="5.7" fill="#ef5350"/>
<path d="M38.54 335.7V343" stroke="#ef5350" stroke-width="0.75" fill="none"/>
<rect x="36.84" y="337.3" width="3.4" height="2.8" fill="#ef5350"/>
<path d="M43.03 331.9V341.6" stroke="#26a69a" stroke-width="0.75" fill="none"/>
<rect x="41.33" y="338.6" width="3.4" height="1.2" fill="#26a69a"/>
<path d="M47.52 336.9V347" stroke="#ef5350" stroke-width="0.75" fill="none"/>
<rect x="45.82" y="338.2" width="3.4" height="3.8" fill="#ef5350"/>
<path d="M52.02 332.8V342" stroke="#26a69a" stroke-width="0.75" fill="none"/>
<rect x="50.32" y="333.8" width="3.4" height="7.8" fill="#26a69a"/>
<path d="M56.51 330.4V336.3" stroke="#26a69a" stroke-width="0.75" fill="none"/>
<rect x="54.81" y="332.5" width="3.4" height="0.8" fill="#26a69a"/>
<path d="M61 330.6V336.9" stroke="#26a69a" stroke-width="0.75" fill="none"/>
<rect x="59.3" y="332.3" width="3.4" height="0.8" fill="#26a69a"/>
<path d="M65.49 322.2V336" stroke="#26a69a" stroke-width="0.75" fill="none"/>
<rect x="63.79" y="323.5" width="3.4" height="9" fill="#26a69a"/>
<path d="M69.98 319.1V333.1" stroke="#26a69a" stroke-width="0.75" fill="none"/>
<rect x="68.28" y="322.2" width="3.4" height="1.3" fill="#26a69a"/>
<path d="M74.47 302.9V324.7" stroke="#26a69a" stroke-width="0.75" fill="none"/>
<rect x="72.77" y="309.2" width="3.4" height="13.6" fill="#26a69a"/>
<path d="M78.96 301.4V317.2" stroke="#26a69a" stroke-width="0.75" fill="none"/>
<rect x="77.26" y="303.9" width="3.4" height="5.1" fill="#26a69a"/>
<path d="M83.46 287.6V303.1" stroke="#26a69a" stroke-width="0.75" fill="none"/>
<rect x="81.76" y="293" width="3.4" height="10.1" fill="#26a69a"/>
<path d="M87.95 279.4V292.4" stroke="#26a69a" stroke-width="0.75" fill="none"/>
<rect x="86.25" y="283.6" width="3.4" height="8.8" fill="#26a69a"/>
<path d="M92.44 281V292.4" stroke="#ef5350" stroke-width="0.75" fill="none"/>
<rect x="90.74" y="282.8" width="3.4" height="2.9" fill="#ef5350"/>
<path d="M96.93 276V291.1" stroke="#26a69a" stroke-width="0.75" fill="none"/>
<rect x="95.23" y="283.8" width="3.4" height="1.9" fill="#26a69a"/>
<path d="M101.42 277.3V293.6" stroke="#ef5350" stroke-width="0.75" fill="none"/>
<rect x="99.72" y="283.8" width="3.4" height="5.3" fill="#ef5350"/>
<path d="M105.91 287.6V298" stroke="#26a69a" stroke-width="0.75" fill="none"/>
<rect x="104.21" y="287.6" width="3.4" height="0.8" fill="#26a69a"/>
<path d="M110.4 283.8V293.9" stroke="#26a69a" stroke-width="0.75" fill="none"/>
<rect x="108.7" y="286.6" width="3.4" height="1.9" fill="#26a69a"/>
<path d="M114.9 285.7V305.2" stroke="#ef5350" stroke-width="0.75" fill="none"/>
<rect x="113.2" y="286.1" width="3.4" height="14.7" fill="#ef5350"/>
<path d="M119.39 292V301.4" stroke="#26a69a" stroke-width="0.75" fill="none"/>
<rect x="117.69" y="292.4" width="3.4" height="8.2" fill="#26a69a"/>
<path d="M123.88 280V293.6" stroke="#26a69a" stroke-width="0.75" fill="none"/>
<rect x="122.18" y="282.8" width="3.4" height="8.8" fill="#26a69a"/>
<path d="M128.37 260V282.6" stroke="#26a69a" stroke-width="0.75" fill="none"/>
<rect x="126.67" y="261.9" width="3.4" height="20.7" fill="#26a69a"/>
<path d="M132.86 240.9V261.2" stroke="#26a69a" stroke-width="0.75" fill="none"/>
<rect x="131.16" y="244.9" width="3.4" height="16.3" fill="#26a69a"/>
<path d="M137.35 243V257.5" stroke="#ef5350" stroke-width="0.75" fill="none"/>
<rect x="135.65" y="244.9" width="3.4" height="8.5" fill="#ef5350"/>
<path d="M141.84 247.6V267.5" stroke="#ef5350" stroke-width="0.75" fill="none"/>
<rect x="140.15" y="253.4" width="3.4" height="7.8" fill="#ef5350"/>
<path d="M146.34 252.4V270.1" stroke="#ef5350" stroke-width="0.75" fill="none"/>
<rect x="144.64" y="261.2" width="3.4" height="3.2" fill="#ef5350"/>
<path d="M150.83 259V268.8" stroke="#26a69a" stroke-width="0.75" fill="none"/>
<rect x="149.13" y="262.8" width="3.4" height="0.8" fill="#26a69a"/>
<path d="M155.32 263.8V282" stroke="#ef5350" stroke-width="0.75" fill="none"/>
<rect x="153.62" y="263.8" width="3.4" height="10" fill="#ef5350"/>
<path d="M159.81 263.1V277.6" stroke="#26a69a" stroke-width="0.75" fill="none"/>
<rect x="158.11" y="265.6" width="3.4" height="8" fill="#26a69a"/>
<path d="M164.3 241.1V265" stroke="#26a69a" stroke-width="0.75" fill="none"/>
<rect x="162.6" y="251.8" width="3.4" height="13.2" fill="#26a69a"/>
<path d="M168.79 202.5V251.8" stroke="#26a69a" stroke-width="0.75" fill="none"/>
<rect x="167.09" y="224.1" width="3.4" height="27.7" fill="#26a69a"/>
<path d="M173.29 216.3V234.8" stroke="#ef5350" stroke-width="0.75" fill="none"/>
<rect x="171.59" y="224.1" width="3.4" height="2.9" fill="#ef5350"/>
<path d="M177.78 214V229.5" stroke="#26a69a" stroke-width="0.75" fill="none"/>
<rect x="176.08" y="218.8" width="3.4" height="7.8" fill="#26a69a"/>
<path d="M182.27 202.1V222.6" stroke="#26a69a" stroke-width="0.75" fill="none"/>
<rect x="180.57" y="203" width="3.4" height="15.5" fill="#26a69a"/>
<path d="M186.76 144.2V204.6" stroke="#26a69a" stroke-width="0.75" fill="none"/>
<rect x="185.06" y="157.7" width="3.4" height="45.7" fill="#26a69a"/>
<path d="M191.25 113V161.5" stroke="#26a69a" stroke-width="0.75" fill="none"/>
<rect x="189.55" y="113" width="3.4" height="44.3" fill="#26a69a"/>
<path d="M195.74 70.2V126.2" stroke="#26a69a" stroke-width="0.75" fill="none"/>
<rect x="194.04" y="97.9" width="3.4" height="14.5" fill="#26a69a"/>
<path d="M200.23 72.1V112.4" stroke="#26a69a" stroke-width="0.75" fill="none"/>
<rect x="198.53" y="88.5" width="3.4" height="9" fill="#26a69a"/>
<path d="M204.73 80.3V111.8" stroke="#ef5350" stroke-width="0.75" fill="none"/>
<rect x="203.03" y="88.5" width="3.4" height="18.2" fill="#ef5350"/>
<path d="M209.22 95.4V111.8" stroke="#26a69a" stroke-width="0.75" fill="none"/>
<rect x="207.52" y="97.3" width="3.4" height="9.2" fill="#26a69a"/>
<path d="M213.71 92.2V107.7" stroke="#ef5350" stroke-width="0.75" fill="none"/>
<rect x="212.01" y="97.3" width="3.4" height="8.2" fill="#ef5350"/>
<path d="M218.2 99.8V118.7" stroke="#26a69a" stroke-width="0.75" fill="none"/>
<rect x="216.5" y="104.2" width="3.4" height="1.3" fill="#26a69a"/>
<path d="M222.69 97.3V109.2" stroke="#26a69a" stroke-width="0.75" fill="none"/>
<rect x="220.99" y="102.3" width="3.4" height="1.7" fill="#26a69a"/>
<path d="M227.18 78.4V104.6" stroke="#26a69a" stroke-width="0.75" fill="none"/>
<rect x="225.48" y="92.9" width="3.4" height="8.8" fill="#26a69a"/>
<path d="M231.68 89.5V105.5" stroke="#ef5350" stroke-width="0.75" fill="none"/>
<rect x="229.98" y="92.6" width="3.4" height="5.9" fill="#ef5350"/>
<path d="M236.17 90.4V102.9" stroke="#26a69a" stroke-width="0.75" fill="none"/>
<rect x="234.47" y="94.8" width="3.4" height="3.7" fill="#26a69a"/>
<path d="M240.66 78.4V97" stroke="#26a69a" stroke-width="0.75" fill="none"/>
<rect x="238.96" y="82.2" width="3.4" height="11.7" fill="#26a69a"/>
<path d="M245.15 53.2V85.5" stroke="#26a69a" stroke-width="0.75" fill="none"/>
<rect x="243.45" y="74" width="3.4" height="7.5" fill="#26a69a"/>
<path d="M249.64 63.9V88.5" stroke="#26a69a" stroke-width="0.75" fill="none"/>
<rect x="247.94" y="73.4" width="3.4" height="0.8" fill="#26a69a"/>
<path d="M254.13 70.6V96.9" stroke="#ef5350" stroke-width="0.75" fill="none"/>
<rect x="252.43" y="74" width="3.4" height="17.6" fill="#ef5350"/>
<path d="M258.62 83.4V105.1" stroke="#ef5350" stroke-width="0.75" fill="none"/>
<rect x="256.92" y="91.4" width="3.4" height="2.7" fill="#ef5350"/>
<path d="M263.12 84.3V96.9" stroke="#26a69a" stroke-width="0.75" fill="none"/>
<rect x="261.42" y="87.8" width="3.4" height="6.3" fill="#26a69a"/>
<path d="M267.61 74.6V91.6" stroke="#26a69a" stroke-width="0.75" fill="none"/>
<rect x="265.91" y="86.6" width="3.4" height="0.8" fill="#26a69a"/>
<path d="M272.1 70.8V87.6" stroke="#26a69a" stroke-width="0.75" fill="none"/>
<rect x="270.4" y="75.9" width="3.4" height="11.3" fill="#26a69a"/>
<path d="M276.59 71.5V80.9" stroke="#ef5350" stroke-width="0.75" fill="none"/>
<rect x="274.89" y="75.9" width="3.4" height="1.9" fill="#ef5350"/>
<path d="M281.08 65.8V79.6" stroke="#26a69a" stroke-width="0.75" fill="none"/>
<rect x="279.38" y="69.6" width="3.4" height="8.2" fill="#26a69a"/>
<path d="M285.57 59.5V87.6" stroke="#ef5350" stroke-width="0.75" fill="none"/>
<rect x="283.87" y="69.6" width="3.4" height="6.9" fill="#ef5350"/>
<path d="M290.06 74.2V92.9" stroke="#ef5350" stroke-width="0.75" fill="none"/>
<rect x="288.36" y="76.5" width="3.4" height="8.2" fill="#ef5350"/>
<path d="M294.56 71.5V87.6" stroke="#26a69a" stroke-width="0.75" fill="none"/>
<rect x="292.86" y="73" width="3.4" height="11.7" fill="#26a69a"/>
<path d="M299.05 58.9V84" stroke="#ef5350" stroke-width="0.75" fill="none"/>
<rect x="297.35" y="73" width="3.4" height="2.5" fill="#ef5350"/>
<path d="M303.54 69.2V78.1" stroke="#26a69a" stroke-width="0.75" fill="none"/>
<rect x="301.84" y="72.1" width="3.4" height="3.1" fill="#26a69a"/>
<path d="M308.03 58.6V73.4" stroke="#26a69a" stroke-width="0.75" fill="none"/>
<rect x="306.33" y="64.2" width="3.4" height="7.5" fill="#26a69a"/>
<path d="M312.52 51.1V66.7" stroke="#26a69a" stroke-width="0.75" fill="none"/>
<rect x="310.82" y="58.6" width="3.4" height="5.3" fill="#26a69a"/>
<path d="M317.01 58.3V97.6" stroke="#ef5350" stroke-width="0.75" fill="none"/>
<rect x="315.31" y="58.3" width="3.4" height="23" fill="#ef5350"/>
<path d="M321.51 77.1V105.1" stroke="#ef5350" stroke-width="0.75" fill="none"/>
<rect x="319.81" y="81.3" width="3.4" height="9.7" fill="#ef5350"/>
<path d="M326 79.3V100.1" stroke="#26a69a" stroke-width="0.75" fill="none"/>
<rect x="324.3" y="81.3" width="3.4" height="9.4" fill="#26a69a"/>
<path d="M330.49 76.5V86.9" stroke="#ef5350" stroke-width="0.75" fill="none"/>
<rect x="328.79" y="81.3" width="3.4" height="3.4" fill="#ef5350"/>
<path d="M334.98 82.2V87.8" stroke="#26a69a" stroke-width="0.75" fill="none"/>
<rect x="333.28" y="83.4" width="3.4" height="1.3" fill="#26a69a"/>
<path d="M339.47 81.3V93.5" stroke="#ef5350" stroke-width="0.75" fill="none"/>
<rect x="337.77" y="83.4" width="3.4" height="5.1" fill="#ef5350"/>
<path d="M343.96 82.8V91" stroke="#26a69a" stroke-width="0.75" fill="none"/>
<rect x="342.26" y="84.7" width="3.4" height="3.8" fill="#26a69a"/>
<path d="M348.45 80.9V91" stroke="#ef5350" stroke-width="0.75" fill="none"/>
<rect x="346.75" y="84.7" width="3.4" height="2.1" fill="#ef5350"/>
<path d="M352.95 83.4V91.6" stroke="#ef5350" stroke-width="0.75" fill="none"/>
<rect x="351.25" y="86.8" width="3.4" height="3.9" fill="#ef5350"/>
<path d="M357.44 89.7V113" stroke="#ef5350" stroke-width="0.75" fill="none"/>
<rect x="355.74" y="90.7" width="3.4" height="18.2" fill="#ef5350"/>
<path d="M361.93 104.3V142.8" stroke="#ef5350" stroke-width="0.75" fill="none"/>
<rect x="360.23" y="108.9" width="3.4" height="25.1" fill="#ef5350"/>
<path d="M366.42 125.8V168.7" stroke="#26a69a" stroke-width="0.75" fill="none"/>
<rect x="364.72" y="132" width="3.4" height="1.7" fill="#26a69a"/>
<path d="M370.91 113.8V133.7" stroke="#26a69a" stroke-width="0.75" fill="none"/>
<rect x="369.21" y="130.6" width="3.4" height="1.1" fill="#26a69a"/>
<path d="M375.4 128.3V139.6" stroke="#ef5350" stroke-width="0.75" fill="none"/>
<rect x="373.7" y="130.2" width="3.4" height="4.8" fill="#ef5350"/>
<path d="M379.89 125.8V140.6" stroke="#26a69a" stroke-width="0.75" fill="none"/>
<rect x="378.19" y="127.7" width="3.4" height="6.9" fill="#26a69a"/>
<path d="M384.39 118.6V132.7" stroke="#26a69a" stroke-width="0.75" fill="none"/>
<rect x="382.69" y="120.7" width="3.4" height="7" fill="#26a69a"/>
<path d="M388.88 118.2V126.6" stroke="#ef5350" stroke-width="0.75" fill="none"/>
<rect x="387.18" y="120.4" width="3.4" height="2" fill="#ef5350"/>
<path d="M393.37 120.1V137.5" stroke="#ef5350" stroke-width="0.75" fill="none"/>
<rect x="391.67" y="122" width="3.4" height="13" fill="#ef5350"/>
<path d="M397.86 127.7V137.1" stroke="#ef5350" stroke-width="0.75" fill="none"/>
<rect x="396.16" y="134.2" width="3.4" height="1" fill="#ef5350"/>
<path d="M402.35 126.4V135.6" stroke="#26a69a" stroke-width="0.75" fill="none"/>
<rect x="400.65" y="128" width="3.4" height="7.2" fill="#26a69a"/>
<path d="M406.84 125.1V135.2" stroke="#ef5350" stroke-width="0.75" fill="none"/>
<rect x="405.14" y="128" width="3.4" height="6.2" fill="#ef5350"/>
<path d="M411.34 128.9V138.7" stroke="#ef5350" stroke-width="0.75" fill="none"/>
<rect x="409.64" y="133.7" width="3.4" height="0.9" fill="#ef5350"/>
<path d="M415.83 125.4V136.7" stroke="#26a69a" stroke-width="0.75" fill="none"/>
<rect x="414.13" y="133.1" width="3.4" height="0.9" fill="#26a69a"/>
<path d="M420.32 126.4V135.6" stroke="#26a69a" stroke-width="0.75" fill="none"/>
<rect x="418.62" y="127.7" width="3.4" height="5.2" fill="#26a69a"/>
<path d="M424.81 116.3V127.7" stroke="#26a69a" stroke-width="0.75" fill="none"/>
<rect x="423.11" y="119.9" width="3.4" height="7.5" fill="#26a69a"/>
<path d="M429.3 93V120.7" stroke="#26a69a" stroke-width="0.75" fill="none"/>
<rect x="427.6" y="97.8" width="3.4" height="21.4" fill="#26a69a"/>
<path d="M433.79 88.3V99.3" stroke="#26a69a" stroke-width="0.75" fill="none"/>
<rect x="432.09" y="90.2" width="3.4" height="7.6" fill="#26a69a"/>
<path d="M438.28 89V100" stroke="#ef5350" stroke-width="0.75" fill="none"/>
<rect x="436.58" y="90.2" width="3.4" height="6.7" fill="#ef5350"/>
<path d="M442.78 90.2V99.6" stroke="#26a69a" stroke-width="0.75" fill="none"/>
<rect x="441.08" y="93.7" width="3.4" height="2.8" fill="#26a69a"/>
<path d="M447.27 88.7V114.8" stroke="#ef5350" stroke-width="0.75" fill="none"/>
<rect x="445.57" y="93" width="3.4" height="21.4" fill="#ef5350"/>
<path d="M451.76 110V127.7" stroke="#ef5350" stroke-width="0.75" fill="none"/>
<rect x="450.06" y="114.4" width="3.4" height="3.6" fill="#ef5350"/>
<path d="M456.25 115.3V134" stroke="#ef5350" stroke-width="0.75" fill="none"/>
<rect x="454.55" y="117.6" width="3.4" height="11.9" fill="#ef5350"/>
<path d="M460.74 119.5V129.5" stroke="#26a69a" stroke-width="0.75" fill="none"/>
<rect x="459.04" y="123" width="3.4" height="6.5" fill="#26a69a"/>
<path d="M465.23 114.4V124.5" stroke="#26a69a" stroke-width="0.75" fill="none"/>
<rect x="463.53" y="118.6" width="3.4" height="3.8" fill="#26a69a"/>
<path d="M469.72 117V123.3" stroke="#ef5350" stroke-width="0.75" fill="none"/>
<rect x="468.02" y="118.2" width="3.4" height="3.2" fill="#ef5350"/>
<path d="M474.22 115.7V136.5" stroke="#26a69a" stroke-width="0.75" fill="none"/>
<rect x="472.52" y="120.1" width="3.4" height="1.9" fill="#26a69a"/>
<path d="M478.71 106.4V121" stroke="#26a69a" stroke-width="0.75" fill="none"/>
<rect x="477.01" y="110.3" width="3.4" height="9.7" fill="#26a69a"/>
<path d="M483.2 93.9V114" stroke="#26a69a" stroke-width="0.75" fill="none"/>
<rect x="481.5" y="94.9" width="3.4" height="15.1" fill="#26a69a"/>
<path d="M487.69 92.9V104" stroke="#ef5350" stroke-width="0.75" fill="none"/>
<rect x="485.99" y="94.9" width="3.4" height="4.7" fill="#ef5350"/>
<path d="M492.18 77.6V99.6" stroke="#26a69a" stroke-width="0.75" fill="none"/>
<rect x="490.48" y="81.1" width="3.4" height="18.1" fill="#26a69a"/>
<path d="M496.67 71.9V95.8" stroke="#ef5350" stroke-width="0.75" fill="none"/>
<rect x="494.97" y="81.1" width="3.4" height="8.4" fill="#ef5350"/>
<path d="M501.17 83.2V115.1" stroke="#ef5350" stroke-width="0.75" fill="none"/>
<rect x="499.47" y="89.5" width="3.4" height="19.3" fill="#ef5350"/>
<path d="M505.66 94.5V116.3" stroke="#ef5350" stroke-width="0.75" fill="none"/>
<rect x="503.96" y="109" width="3.4" height="1.9" fill="#ef5350"/>
<path d="M510.15 86.1V121" stroke="#26a69a" stroke-width="0.75" fill="none"/>
<rect x="508.45" y="102.1" width="3.4" height="8.8" fill="#26a69a"/>
<path d="M514.64 100.8V110.9" stroke="#ef5350" stroke-width="0.75" fill="none"/>
<rect x="512.94" y="102.1" width="3.4" height="4.4" fill="#ef5350"/>
<path d="M519.13 105.6V118.2" stroke="#ef5350" stroke-width="0.75" fill="none"/>
<rect x="517.43" y="106.5" width="3.4" height="5.7" fill="#ef5350"/>
<path d="M523.62 105.6V117.2" stroke="#ef5350" stroke-width="0.75" fill="none"/>
<rect x="521.92" y="112.2" width="3.4" height="0.8" fill="#ef5350"/>
<path d="M528.11 107.8V115.9" stroke="#26a69a" stroke-width="0.75" fill="none"/>
<rect x="526.41" y="111.5" width="3.4" height="1" fill="#26a69a"/>
<path d="M532.61 109.6V121.4" stroke="#ef5350" stroke-width="0.75" fill="none"/>
<rect x="530.91" y="111.5" width="3.4" height="9.5" fill="#ef5350"/>
<path d="M537.1 120.7V139.5" stroke="#ef5350" stroke-width="0.75" fill="none"/>
<rect x="535.4" y="121" width="3.4" height="1.3" fill="#ef5350"/>
<path d="M541.59 119.4V133.9" stroke="#ef5350" stroke-width="0.75" fill="none"/>
<rect x="539.89" y="121.9" width="3.4" height="9.8" fill="#ef5350"/>
<path d="M546.08 121.9V131.4" stroke="#26a69a" stroke-width="0.75" fill="none"/>
<rect x="544.38" y="128.2" width="3.4" height="3.2" fill="#26a69a"/>
<path d="M550.57 119.8V128.8" stroke="#26a69a" stroke-width="0.75" fill="none"/>
<rect x="548.87" y="123.8" width="3.4" height="4.4" fill="#26a69a"/>
<path d="M555.06 117.8V128.2" stroke="#ef5350" stroke-width="0.75" fill="none"/>
<rect x="553.36" y="123.8" width="3.4" height="1.5" fill="#ef5350"/>
<path d="M559.55 123.2V140.8" stroke="#ef5350" stroke-width="0.75" fill="none"/>
<rect x="557.85" y="125.3" width="3.4" height="12.7" fill="#ef5350"/>
<path d="M564.05 133.6V177.7" stroke="#ef5350" stroke-width="0.75" fill="none"/>
<rect x="562.35" y="138" width="3.4" height="26.3" fill="#ef5350"/>
<path d="M568.54 147.5V218.7" stroke="#26a69a" stroke-width="0.75" fill="none"/>
<rect x="566.84" y="152.8" width="3.4" height="11.2" fill="#26a69a"/>
<path d="M573.03 150.2V173.7" stroke="#ef5350" stroke-width="0.75" fill="none"/>
<rect x="571.33" y="152.8" width="3.4" height="15.5" fill="#ef5350"/>
<path d="M577.52 163.8V174.9" stroke="#ef5350" stroke-width="0.75" fill="none"/>
<rect x="575.82" y="168.3" width="3.4" height="5" fill="#ef5350"/>
<path d="M582.01 165.7V183" stroke="#ef5350" stroke-width="0.75" fill="none"/>
<rect x="580.31" y="172.9" width="3.4" height="6.9" fill="#ef5350"/>
<path d="M586.5 168.9V186.5" stroke="#ef5350" stroke-width="0.75" fill="none"/>
<rect x="584.8" y="179.6" width="3.4" height="0.9" fill="#ef5350"/>
<path d="M591 174.9V181.5" stroke="#26a69a" stroke-width="0.75" fill="none"/>
<rect x="589.29" y="175.8" width="3.4" height="4.4" fill="#26a69a"/>
<path d="M595.49 170.1V185.9" stroke="#ef5350" stroke-width="0.75" fill="none"/>
<rect x="593.79" y="175.8" width="3.4" height="3.1" fill="#ef5350"/>
<path d="M599.98 173.3V184" stroke="#26a69a" stroke-width="0.75" fill="none"/>
<rect x="598.28" y="173.9" width="3.4" height="4.8" fill="#26a69a"/>
<path d="M604.47 162.6V178.7" stroke="#ef5350" stroke-width="0.75" fill="none"/>
<rect x="602.77" y="173.7" width="3.4" height="2.1" fill="#ef5350"/>
<path d="M608.96 165.1V180.2" stroke="#26a69a" stroke-width="0.75" fill="none"/>
<rect x="607.26" y="167.4" width="3.4" height="8.2" fill="#26a69a"/>
<path d="M613.45 165.1V174.9" stroke="#ef5350" stroke-width="0.75" fill="none"/>
<rect x="611.75" y="167" width="3.4" height="1.9" fill="#ef5350"/>
<path d="M617.94 151.5V168.6" stroke="#26a69a" stroke-width="0.75" fill="none"/>
<rect x="616.24" y="162.2" width="3.4" height="6.4" fill="#26a69a"/>
<path d="M622.44 154V164.1" stroke="#ef5350" stroke-width="0.75" fill="none"/>
<rect x="620.74" y="161.3" width="3.4" height="0.8" fill="#ef5350"/>
<path d="M626.93 160.1V167.6" stroke="#ef5350" stroke-width="0.75" fill="none"/>
<rect x="625.23" y="161.7" width="3.4" height="5" fill="#ef5350"/>
<path d="M631.42 164.1V174.5" stroke="#ef5350" stroke-width="0.75" fill="none"/>
<rect x="629.72" y="166.4" width="3.4" height="5.4" fill="#ef5350"/>
<path d="M635.91 170.8V183.7" stroke="#ef5350" stroke-width="0.75" fill="none"/>
<rect x="634.21" y="171.8" width="3.4" height="5" fill="#ef5350"/>
<path d="M640.4 173.3V178.7" stroke="#26a69a" stroke-width="0.75" fill="none"/>
<rect x="638.7" y="174.5" width="3.4" height="2.3" fill="#26a69a"/>
<path d="M644.89 172V177.7" stroke="#ef5350" stroke-width="0.75" fill="none"/>
<rect x="643.19" y="173.7" width="3.4" height="0.8" fill="#ef5350"/>
<path d="M649.38 169.5V190.3" stroke="#ef5350" stroke-width="0.75" fill="none"/>
<rect x="647.68" y="174.3" width="3.4" height="11.6" fill="#ef5350"/>
<path d="M653.88 180V186.5" stroke="#26a69a" stroke-width="0.75" fill="none"/>
<rect x="652.18" y="180.5" width="3.4" height="5.4" fill="#26a69a"/>
<path d="M658.37 179.2V185" stroke="#ef5350" stroke-width="0.75" fill="none"/>
<rect x="656.67" y="180.2" width="3.4" height="3.8" fill="#ef5350"/>
<path d="M662.86 182.6V214.6" stroke="#ef5350" stroke-width="0.75" fill="none"/>
<rect x="661.16" y="183.3" width="3.4" height="27.6" fill="#ef5350"/>
<path d="M667.35 207.1V224.5" stroke="#26a69a" stroke-width="0.75" fill="none"/>
<rect x="665.65" y="210" width="3.4" height="0.9" fill="#26a69a"/>
<path d="M671.84 207.1V223.5" stroke="#ef5350" stroke-width="0.75" fill="none"/>
<rect x="670.14" y="210" width="3.4" height="7.2" fill="#ef5350"/>
<path d="M676.33 210V219.7" stroke="#26a69a" stroke-width="0.75" fill="none"/>
<rect x="674.63" y="214.3" width="3.4" height="2.5" fill="#26a69a"/>
<path d="M680.83 214V238.6" stroke="#ef5350" stroke-width="0.75" fill="none"/>
<rect x="679.12" y="214.3" width="3.4" height="4.1" fill="#ef5350"/>
<path d="M685.32 212.1V220.3" stroke="#26a69a" stroke-width="0.75" fill="none"/>
<rect x="683.62" y="214.6" width="3.4" height="3.8" fill="#26a69a"/>
<path d="M689.81 183.8V218.4" stroke="#26a69a" stroke-width="0.75" fill="none"/>
<rect x="688.11" y="186.3" width="3.4" height="27.7" fill="#26a69a"/>
<path d="M694.3 185.7V226.9" stroke="#ef5350" stroke-width="0.75" fill="none"/>
<rect x="692.6" y="186.1" width="3.4" height="35.2" fill="#ef5350"/>
<path d="M698.79 217.8V237.6" stroke="#ef5350" stroke-width="0.75" fill="none"/>
<rect x="697.09" y="220.9" width="3.4" height="0.9" fill="#ef5350"/>
<path d="M703.28 214.3V223.8" stroke="#26a69a" stroke-width="0.75" fill="none"/>
<rect x="701.58" y="216.3" width="3.4" height="5" fill="#26a69a"/>
<path d="M707.77 202.1V220.6" stroke="#ef5350" stroke-width="0.75" fill="none"/>
<rect x="706.07" y="216.3" width="3.4" height="2.7" fill="#ef5350"/>
<path d="M712.27 212.1V229.8" stroke="#ef5350" stroke-width="0.75" fill="none"/>
<rect x="710.57" y="219" width="3.4" height="2.8" fill="#ef5350"/>
<path d="M716.76 219.7V228.5" stroke="#ef5350" stroke-width="0.75" fill="none"/>
<rect x="715.06" y="221.8" width="3.4" height="6" fill="#ef5350"/>
<path d="M721.25 226.2V256.5" stroke="#ef5350" stroke-width="0.75" fill="none"/>
<rect x="719.55" y="228.1" width="3.4" height="25.8" fill="#ef5350"/>
<path d="M725.74 239.9V274.6" stroke="#ef5350" stroke-width="0.75" fill="none"/>
<rect x="724.04" y="253.9" width="3.4" height="16.4" fill="#ef5350"/>
<path d="M730.23 253.3V284.7" stroke="#26a69a" stroke-width="0.75" fill="none"/>
<rect x="728.53" y="258" width="3.4" height="12.1" fill="#26a69a"/>
<path d="M734.72 247V263.4" stroke="#26a69a" stroke-width="0.75" fill="none"/>
<rect x="733.02" y="249.2" width="3.4" height="8.8" fill="#26a69a"/>
<path d="M739.21 248.3V260.9" stroke="#ef5350" stroke-width="0.75" fill="none"/>
<rect x="737.51" y="249.2" width="3.4" height="7.9" fill="#ef5350"/>
<path d="M743.71 244.5V257.1" stroke="#26a69a" stroke-width="0.75" fill="none"/>
<rect x="742.01" y="249.9" width="3.4" height="6.8" fill="#26a69a"/>
<path d="M748.2 243V249.5" stroke="#26a69a" stroke-width="0.75" fill="none"/>
<rect x="746.5" y="245.1" width="3.4" height="4.2" fill="#26a69a"/>
<path d="M752.69 243.9V256.4" stroke="#ef5350" stroke-width="0.75" fill="none"/>
<rect x="750.99" y="245.1" width="3.4" height="8.7" fill="#ef5350"/>
<path d="M757.18 244.5V253.9" stroke="#26a69a" stroke-width="0.75" fill="none"/>
<rect x="755.48" y="248.1" width="3.4" height="5.5" fill="#26a69a"/>
<path d="M761.67 248V259.5" stroke="#ef5350" stroke-width="0.75" fill="none"/>
<rect x="759.97" y="248.1" width="3.4" height="5.7" fill="#ef5350"/>
<path d="M766.16 242V254.5" stroke="#26a69a" stroke-width="0.75" fill="none"/>
<rect x="764.46" y="242.9" width="3.4" height="10.7" fill="#26a69a"/>
<path d="M770.66 241.4V255" stroke="#ef5350" stroke-width="0.75" fill="none"/>
<rect x="768.96" y="242.9" width="3.4" height="9.1" fill="#ef5350"/>
<path d="M775.15 249.6V257.5" stroke="#ef5350" stroke-width="0.75" fill="none"/>
<rect x="773.45" y="252" width="3.4" height="2.8" fill="#ef5350"/>
<path d="M779.64 251.8V255.1" stroke="#26a69a" stroke-width="0.75" fill="none"/>
<rect x="777.94" y="254.1" width="3.4" height="0.8" fill="#26a69a"/>
<path d="M784.13 248.6V254.5" stroke="#26a69a" stroke-width="0.75" fill="none"/>
<rect x="782.43" y="249.1" width="3.4" height="5.2" fill="#26a69a"/>
<path d="M788.62 231.2V250.5" stroke="#26a69a" stroke-width="0.75" fill="none"/>
<rect x="786.92" y="237.5" width="3.4" height="11" fill="#26a69a"/>
<path d="M793.11 227.1V238.8" stroke="#26a69a" stroke-width="0.75" fill="none"/>
<rect x="791.41" y="230.2" width="3.4" height="6.9" fill="#26a69a"/>
<path d="M797.6 215.1V230.8" stroke="#26a69a" stroke-width="0.75" fill="none"/>
<rect x="795.9" y="225.8" width="3.4" height="4.2" fill="#26a69a"/>
<path d="M802.1 219.9V232.5" stroke="#ef5350" stroke-width="0.75" fill="none"/>
<rect x="800.4" y="225.8" width="3.4" height="3.8" fill="#ef5350"/>
<path d="M806.59 227.4V243.4" stroke="#ef5350" stroke-width="0.75" fill="none"/>
<rect x="804.89" y="230" width="3.4" height="10.5" fill="#ef5350"/>
<path d="M811.08 238.4V255.5" stroke="#ef5350" stroke-width="0.75" fill="none"/>
<rect x="809.38" y="240.3" width="3.4" height="11.5" fill="#ef5350"/>
<path d="M815.57 249.1V257.2" stroke="#ef5350" stroke-width="0.75" fill="none"/>
<rect x="813.87" y="252.1" width="3.4" height="3.3" fill="#ef5350"/>
<path d="M820.06 254V262.7" stroke="#ef5350" stroke-width="0.75" fill="none"/>
<rect x="818.36" y="255.1" width="3.4" height="7.3" fill="#ef5350"/>
</g>
<g clip-path="url(#rsi)">
<linearGradient id="gg" x1="0" y1="365" x2="0" y2="372" gradientUnits="userSpaceOnUse"><stop offset="0" stop-color="#81c784" stop-opacity="0.75"/><stop offset="1" stop-color="#a5d6a7" stop-opacity="0.12"/></linearGradient>
<path d="M164.8 372L164.2 372L168.3 369L172.5 370.3L176.6 370L181.6 367.8L185.7 365.2L203.2 365.2L204.9 367.3L209.8 367.3L213.2 369.5L221.5 369.5L226.4 368.3L231.4 370.6L238.1 369.5L244.7 367.8L249.7 367.8L253 372L252.5 372Z" fill="url(#gg)"/>
<path d="M7.5 377.8L16.6 378.6L33.2 380.6L49.8 382.8L61.4 383.6L69.7 382.8L79.7 380.3L91.3 377.3L103 374.5L116.2 372.8L132.8 371.1L141.2 371.1L149.5 372.3L157.7 373.3L176.6 372.8L193.2 370.6L209.8 368.6L226.4 367.3L243 367L251.4 367.8L259.7 369.5L276.3 370.6L292.9 371.6L309.5 372.8L326.1 375L336.6 377L353.2 378.6L366.5 382.8L378.1 386.6L391.4 388.6L403.1 390.6L413 392.2L419.7 392.7L428 390.2L439.6 386.9L452.9 385.3L469.5 383.9L480 383.3L493.3 381.6L513.2 382.8L538.1 382.3L549.8 383.9L563.1 387.2L579.7 391.1L596.3 394.4L612.9 396L621.2 396L637.8 394.4L656.6 393.2L673.2 395.2L684.9 397.2L706.4 397.2L726.4 397.7L739.7 396.5L756.3 396L776.2 394.9L786.2 392.7L797.8 389.9L810.1 388.6L820 388.4" stroke="#f7e34a" stroke-width="0.9" fill="none" stroke-linejoin="round" />
<path d="M7.5 385.3L11.6 386.6L16.6 386.1L20.8 383.3L26.6 382.8L29.9 381.6L34 383.6L39 384.4L44 383.9L47.3 385.3L51.5 382.8L54.8 381.6L63.1 381.1L68.1 378.6L71.4 374.5L78 371.1L83 369L87.2 368.3L91.3 369.5L96.3 369L99.6 371.1L103 372.3L109.6 371.6L112.9 374.5L116.2 377.8L119.6 375.3L124.5 371.1L128.7 368.6L132 367.3L136.2 370L141.2 372.8L146.1 375L151.1 375.3L155.3 378.6L159.4 377.3L164.2 372.8L168.3 369L172.5 370.3L176.6 370L181.6 367.8L185.7 365.2L203.2 365.2L204.9 367.3L209.8 367.3L213.2 369.5L221.5 369.5L226.4 368.3L231.4 370.6L238.1 369.5L244.7 367.8L249.7 367.8L253 372.8L256.3 374.5L259.7 374.5L263 373.3L268 373.3L273 371.1L276.3 372.3L281.3 371.1L286.2 373.6L290.4 376.6L294.6 374L299.5 374.5L304.5 373.3L309.5 372.8L312.8 372.3L316.1 378.6L321.1 382.8L325.8 380.3L330 381.6L335 381.1L339.1 382.8L343.3 381.6L348.2 382.3L353.2 383.6L358.2 390.2L362.4 396.6L369.8 394.4L375.6 395.6L379.8 391.9L384.8 389.4L388.9 389.4L393.1 393.2L398.1 393.2L402.2 390.2L408 392.2L414.7 391.6L419.7 388.6L424.7 384.4L428.8 377.8L433.8 376.1L438.8 378.6L442.9 377.3L447.1 383.6L451.2 385.3L457 389.4L462.9 386.1L467.8 385.3L471.2 386.1L475.3 385.3L479.5 381.1L483.3 377.8L487.5 379.4L492.5 375L496.6 377.8L500.8 383.3L505.7 384.4L509.9 381.9L514.9 383.3L521.5 384.9L527.3 384.4L532.3 387.2L536.5 387.7L542.3 390.6L546.4 389.4L551.4 387.2L554.8 388.2L558.9 392.2L563.9 399.9L568 394.4L573.9 397.7L579.7 400.2L586.3 400.5L591.3 398.2L596.3 398.5L600.4 396L605.4 396.5L609.6 392.2L613.7 392.7L618.7 388.9L622.9 388.6L627 390.6L631.2 392.2L635.3 394.4L640.3 392.7L645 393.2L649.1 397.7L654.1 393.9L658.3 394.9L662.4 403.5L667.4 403.2L671.6 405.5L675.7 402.7L680.7 404.4L685.7 399.9L690.3 386.1L694.8 394.9L699 394.9L704 392.7L709.8 393.6L716.4 396L721.4 402.7L725.5 405.5L730.5 399.4L734.7 395.6L739.7 397.2L743.8 394.4L748 392.2L753 394.4L757.1 392.2L762.1 393.6L766.2 389.4L771.2 391.9L775.4 392.7L780.4 392.2L784.5 389.4L790.3 384.4L794.5 382.3L797.8 381.4L802 382.8L806.1 386.1L809.8 389.5L815.7 390.7L820 392.6" stroke="#8e6fd6" stroke-width="0.9" fill="none" stroke-linejoin="round" />
</g>
<path d="M7 408.5H1017" stroke="#7d8089" stroke-width="0.9" fill="none"/>
<path d="M7 364.4H1017" stroke="#dfe4ec" stroke-width="0.8" fill="none"/>
<path d="M973.5 19V428" stroke="#5a5d67" stroke-width="0.8" fill="none"/>
<text x="7.6" y="14.2" font-size="9" fill="#1c1f28" textLength="53.4" lengthAdjust="spacingAndGlyphs" >Jake_Simmons</text>
<text x="65" y="14.2" font-size="9" fill="#1c1f28" textLength="36.5" lengthAdjust="spacingAndGlyphs" >published</text>
<text x="103.8" y="14.2" font-size="9" fill="#1c1f28" textLength="8.9" lengthAdjust="spacingAndGlyphs" >on</text>
<text x="116" y="14.2" font-size="9" fill="#1c1f28" textLength="64" lengthAdjust="spacingAndGlyphs" >TradingView.com,</text>
<text x="184.5" y="14.2" font-size="9" fill="#1c1f28" textLength="14.2" lengthAdjust="spacingAndGlyphs" >Mar</text>
<text x="202.5" y="14.2" font-size="9" fill="#1c1f28" textLength="10" lengthAdjust="spacingAndGlyphs" >31,</text>
<text x="217" y="14.2" font-size="9" fill="#1c1f28" textLength="16.7" lengthAdjust="spacingAndGlyphs" >2025</text>
<text x="237.5" y="14.2" font-size="9" fill="#1c1f28" textLength="21" lengthAdjust="spacingAndGlyphs" >06:19</text>
<text x="261.5" y="14.2" font-size="9" fill="#1c1f28" textLength="21.2" lengthAdjust="spacingAndGlyphs" >UTC-4</text>
<text x="12.8" y="32.8" font-size="9" fill="#4a4d57" textLength="34.5" lengthAdjust="spacingAndGlyphs" >Dogecoin</text>
<text x="50.2" y="32.8" font-size="9" fill="#4a4d57" textLength="2.5" lengthAdjust="spacingAndGlyphs" >/</text>
<text x="57.1" y="32.8" font-size="9" fill="#4a4d57" textLength="33.4" lengthAdjust="spacingAndGlyphs" >TetherUS</text>
<text x="99.5" y="32.8" font-size="9" fill="#4a4d57" textLength="9.6" lengthAdjust="spacingAndGlyphs" >1D</text>
<text x="117.1" y="32.8" font-size="9" fill="#4a4d57" textLength="31.2" lengthAdjust="spacingAndGlyphs" >BINANCE</text>
<g fill="#4a4d57"><rect x="94.5" y="29.3" width="1.3" height="1.1"/><rect x="112.6" y="29.3" width="1.3" height="1.1"/><rect x="27.2" y="40.7" width="1.3" height="1.1"/></g>
<text x="155" y="32.8" font-size="9" fill="#4a4d57" textLength="5.5" lengthAdjust="spacingAndGlyphs" >O</text>
<text x="160.8" y="32.8" font-size="9" fill="#f0494f" textLength="29.2" lengthAdjust="spacingAndGlyphs" >0.16653</text>
<text x="195.8" y="32.8" font-size="9" fill="#4a4d57" textLength="5.2" lengthAdjust="spacingAndGlyphs" >H</text>
<text x="201.8" y="32.8" font-size="9" fill="#f0494f" textLength="29.2" lengthAdjust="spacingAndGlyphs" >0.16810</text>
<text x="236.5" y="32.8" font-size="9" fill="#4a4d57" textLength="4" lengthAdjust="spacingAndGlyphs" >L</text>
<text x="241" y="32.8" font-size="9" fill="#f0494f" textLength="28.8" lengthAdjust="spacingAndGlyphs" >0.16005</text>
<text x="275.3" y="32.8" font-size="9" fill="#4a4d57" textLength="5" lengthAdjust="spacingAndGlyphs" >C</text>
<text x="280.5" y="32.8" font-size="9" fill="#f0494f" textLength="29.2" lengthAdjust="spacingAndGlyphs" >0.16087</text>
<text x="316.1" y="32.8" font-size="9" fill="#f0494f" textLength="33.7" lengthAdjust="spacingAndGlyphs" >−0.00565</text>
<text x="353" y="32.8" font-size="9" fill="#f0494f" textLength="31.5" lengthAdjust="spacingAndGlyphs" >(−3.39%)</text>
<text x="12.8" y="44.2" font-size="9" fill="#4a4d57" textLength="11" lengthAdjust="spacingAndGlyphs" >Vol</text>
<text x="32.6" y="44.2" font-size="9" fill="#4a4d57" textLength="20.5" lengthAdjust="spacingAndGlyphs" >DOGE</text>
<text x="59" y="44.2" font-size="9" fill="#f0494f" textLength="24.4" lengthAdjust="spacingAndGlyphs" >426.58</text>
<text x="86.4" y="44.2" font-size="9" fill="#f0494f" textLength="5.5" lengthAdjust="spacingAndGlyphs" >M</text>
<text x="12.8" y="56.2" font-size="9" fill="#4a4d57" textLength="15" lengthAdjust="spacingAndGlyphs" >EMA</text>
<text x="31.4" y="56.2" font-size="9" fill="#4a4d57" textLength="57.2" lengthAdjust="spacingAndGlyphs" >20/50/100/200</text>
<text x="94.1" y="56.2" font-size="9" fill="#ff1f2a" textLength="29.6" lengthAdjust="spacingAndGlyphs" stroke="#ff1f2a" stroke-width="0.25">0.17895</text>
<text x="128.8" y="56.2" font-size="9" fill="#ff9a1f" textLength="29.8" lengthAdjust="spacingAndGlyphs" stroke="#ff9a1f" stroke-width="0.25">0.20707</text>
<text x="164.2" y="56.2" font-size="9" fill="#1fefff" textLength="29.5" lengthAdjust="spacingAndGlyphs" stroke="#1fefff" stroke-width="0.3">0.23763</text>
<text x="199.5" y="56.2" font-size="9" fill="#1a1aff" textLength="29" lengthAdjust="spacingAndGlyphs" stroke="#1a1aff" stroke-width="0.3">0.23741</text>
<text x="857" y="54.41" font-size="8.8" fill="#8a8d96" textLength="43.5" lengthAdjust="spacingAndGlyphs" >0 (0.48442)</text>
<text x="857" y="96.28" font-size="8.8" fill="#f23645" textLength="60" lengthAdjust="spacingAndGlyphs" >0.236 (0.38911)</text>
<text x="857" y="127.68" font-size="8.8" fill="#ff9800" textLength="60" lengthAdjust="spacingAndGlyphs" >0.382 (0.33015)</text>
<text x="857" y="157.47" font-size="8.8" fill="#4caf50" textLength="51.5" lengthAdjust="spacingAndGlyphs" >0.5 (0.28250)</text>
<text x="857" y="192.77" font-size="8.8" fill="#089981" textLength="60" lengthAdjust="spacingAndGlyphs" >0.618 (0.23485)</text>
<text x="857" y="257.92" font-size="8.8" fill="#19c2d8" textLength="59.5" lengthAdjust="spacingAndGlyphs" >0.786 (0.16700)</text>
<text x="979.3" y="68.24" font-size="7.8" fill="#3c3f49" textLength="27.5" lengthAdjust="spacingAndGlyphs" >0.45000</text>
<text x="979.3" y="90.75" font-size="7.8" fill="#3c3f49" textLength="27.5" lengthAdjust="spacingAndGlyphs" >0.40000</text>
<text x="979.3" y="110.89" font-size="7.8" fill="#3c3f49" textLength="27.5" lengthAdjust="spacingAndGlyphs" >0.36000</text>
<text x="979.3" y="133.4" font-size="7.8" fill="#3c3f49" textLength="27.5" lengthAdjust="spacingAndGlyphs" >0.32000</text>
<text x="979.3" y="158.91" font-size="7.8" fill="#3c3f49" textLength="27.5" lengthAdjust="spacingAndGlyphs" >0.28000</text>
<text x="979.3" y="188.37" font-size="7.8" fill="#3c3f49" textLength="27.5" lengthAdjust="spacingAndGlyphs" >0.24000</text>
<text x="979.3" y="213.89" font-size="7.8" fill="#3c3f49" textLength="27.5" lengthAdjust="spacingAndGlyphs" >0.21000</text>
<text x="979.3" y="243.35" font-size="7.8" fill="#3c3f49" textLength="27.5" lengthAdjust="spacingAndGlyphs" >0.18000</text>
<text x="979.3" y="291.37" font-size="7.8" fill="#3c3f49" textLength="27.5" lengthAdjust="spacingAndGlyphs" >0.14000</text>
<text x="979.3" y="313.03" font-size="7.8" fill="#3c3f49" textLength="27.5" lengthAdjust="spacingAndGlyphs" >0.12500</text>
<text x="979.3" y="335.73" font-size="7.8" fill="#3c3f49" textLength="27.5" lengthAdjust="spacingAndGlyphs" >0.11100</text>
<text x="979.3" y="355.67" font-size="7.8" fill="#3c3f49" textLength="27.5" lengthAdjust="spacingAndGlyphs" >0.10000</text>
<text x="979.7" y="370.1" font-size="7.8" fill="#3c3f49" textLength="19.3" lengthAdjust="spacingAndGlyphs" >80.00</text>
<text x="979.7" y="393.9" font-size="7.8" fill="#3c3f49" textLength="19.3" lengthAdjust="spacingAndGlyphs" >40.00</text>
<rect x="976.3" y="21.3" width="37.4" height="18.2" rx="2.5" fill="#fff" stroke="#eef0f3" stroke-width="0.8"/>
<text x="982.7" y="33.3" font-size="8.8" fill="#1c1f28" textLength="18.5" lengthAdjust="spacingAndGlyphs" stroke="#1c1f28" stroke-width="0.15">USDT</text>
<path d="M933 256.7H973.5V267.4H933A2 2 0 0 1 931 265.4V258.7A2 2 0 0 1 933 256.7Z" fill="#ef5350"/>
<text x="933.8" y="265.3" font-size="7.8" fill="#fff" textLength="35.8" lengthAdjust="spacingAndGlyphs" >DOGEUSDT</text>
<path d="M973.5 256.7H1010.4A2 2 0 0 1 1012.4 258.7V274.6A2 2 0 0 1 1010.4 276.6H973.5Z" fill="#ef5350"/>
<text x="979.3" y="265.3" font-size="7.8" fill="#fff" textLength="27.5" lengthAdjust="spacingAndGlyphs" >0.16087</text>
<text x="979.7" y="274.3" font-size="7.8" fill="#fff" textLength="29.6" lengthAdjust="spacingAndGlyphs" >13:40:25</text>
<text x="13" y="378.7" font-size="9" fill="#4a4d57" textLength="52.5" lengthAdjust="spacingAndGlyphs" >RSI (14, close)</text>
<text x="72" y="378.7" font-size="9" fill="#7e57c2" textLength="20.5" lengthAdjust="spacingAndGlyphs" >37.66</text>
<text x="98" y="378.7" font-size="9" fill="#f2d83b" textLength="20.5" lengthAdjust="spacingAndGlyphs" >42.92</text>
<g stroke="#4a4d57" stroke-width="0.75" fill="none"><circle cx="127.5" cy="375.9" r="2.7"/><path d="M125 379.5L130 372.3"/></g>
<g stroke="#4a4d57" stroke-width="0.75" fill="none"><circle cx="141.3" cy="375.9" r="2.7"/><path d="M138.8 379.5L143.8 372.3"/></g>
<g clip-path="url(#tclip)">
<text x="-0.7" y="421.7" font-size="8.8" fill="#3c3f49" textLength="13.4" lengthAdjust="spacingAndGlyphs" >Oct</text>
</g>
<text x="139.1" y="421.7" font-size="8.8" fill="#3c3f49" textLength="13.8" lengthAdjust="spacingAndGlyphs" >Nov</text>
<text x="273.95" y="421.7" font-size="8.8" fill="#3c3f49" textLength="13.5" lengthAdjust="spacingAndGlyphs" >Dec</text>
<text x="410.8" y="421.7" font-size="8.8" fill="#3c3f49" textLength="19" lengthAdjust="spacingAndGlyphs" font-weight="bold" >2025</text>
<text x="552.9" y="421.7" font-size="8.8" fill="#3c3f49" textLength="13" lengthAdjust="spacingAndGlyphs" >Feb</text>
<text x="678.65" y="421.7" font-size="8.8" fill="#3c3f49" textLength="13.5" lengthAdjust="spacingAndGlyphs" >Mar</text>
<text x="818.55" y="421.7" font-size="8.8" fill="#3c3f49" textLength="12.5" lengthAdjust="spacingAndGlyphs" >Apr</text>
<text x="952.15" y="421.7" font-size="8.8" fill="#3c3f49" textLength="14.5" lengthAdjust="spacingAndGlyphs" >May</text>
<g fill="#1c1f28"><path d="M7 437H12.7V443.6H9.85V439.6H7Z"/><circle cx="14.8" cy="438.3" r="1.2"/><path d="M17.7 437H20.5L17.9 443.6H15Z"/></g>
<text x="23.8" y="443.7" font-size="8.6" fill="#1c1f28" textLength="48.7" lengthAdjust="spacingAndGlyphs" stroke="#1c1f28" stroke-width="0.2">TradingView</text>
</svg></body></html>
